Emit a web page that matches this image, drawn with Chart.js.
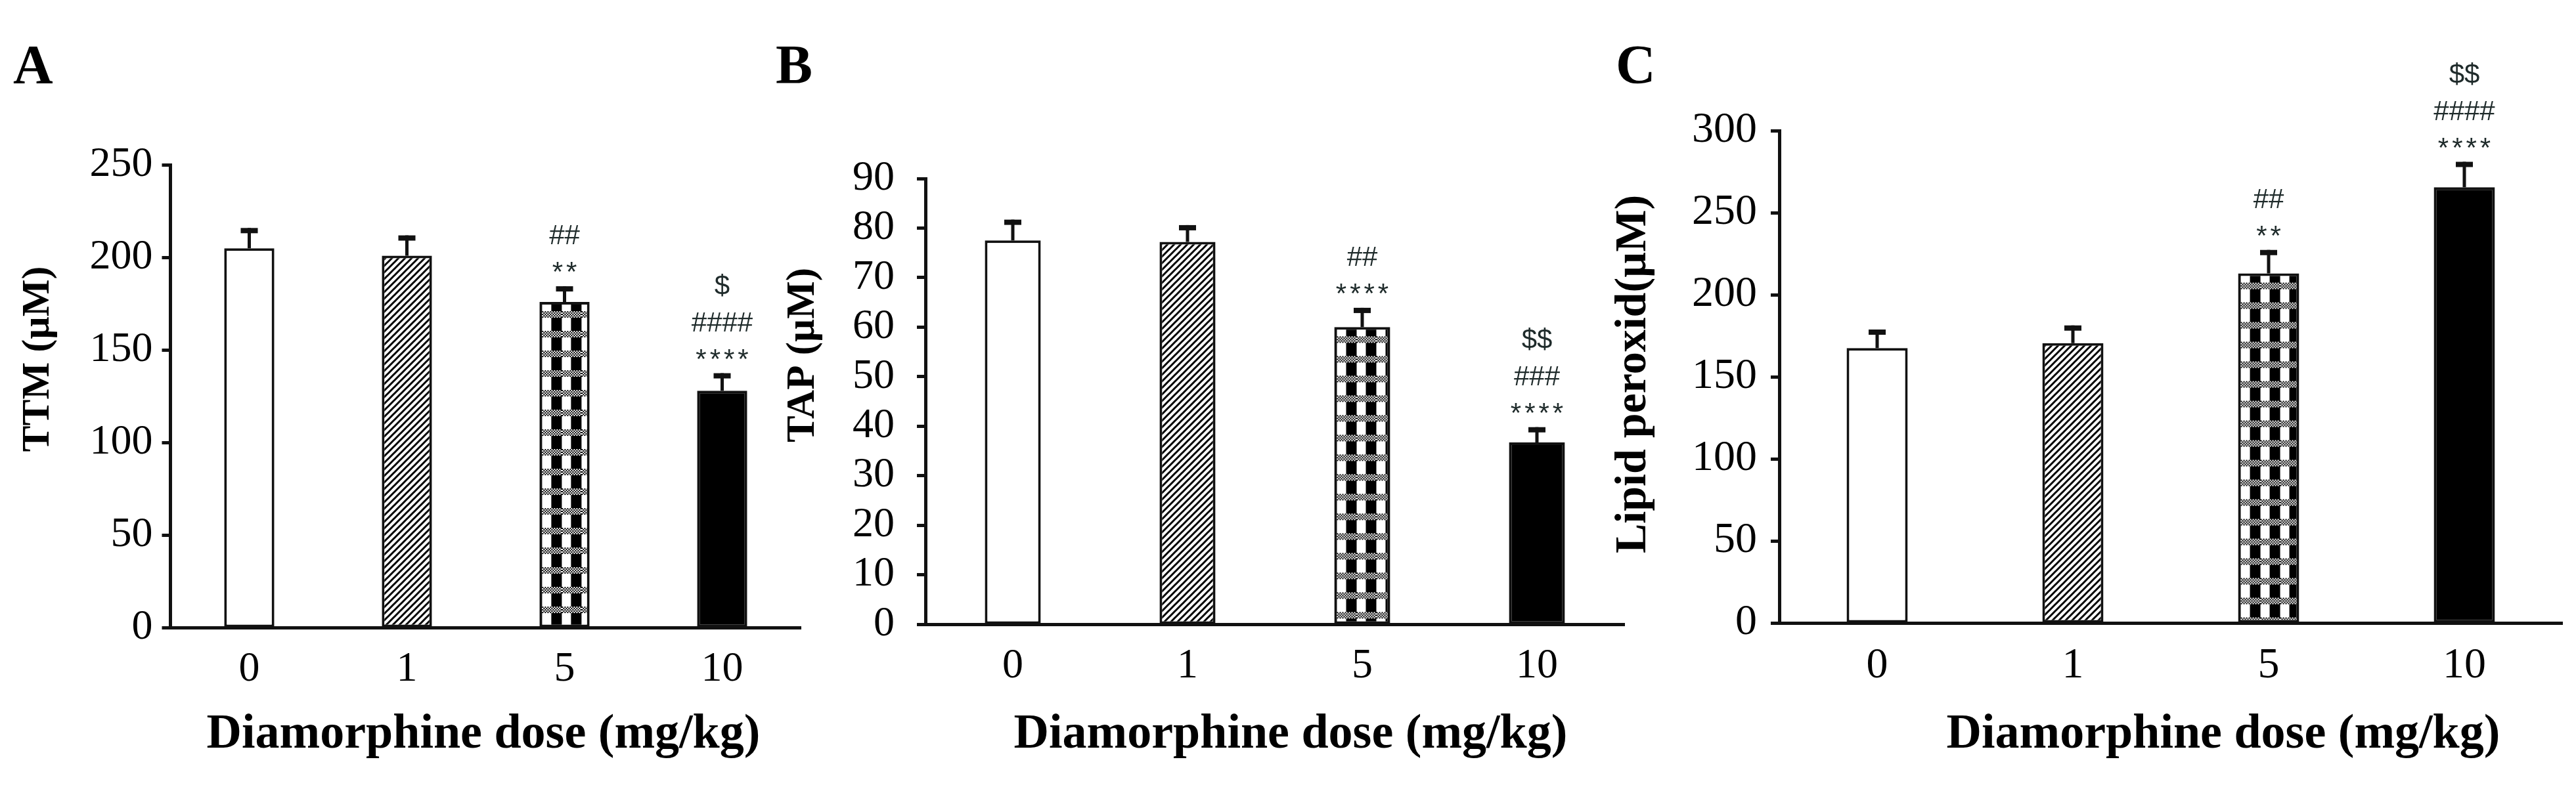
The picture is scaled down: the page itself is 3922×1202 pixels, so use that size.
<!DOCTYPE html>
<html><head><meta charset="utf-8">
<script src="https://cdn.jsdelivr.net/npm/chart.js@4.4.1/dist/chart.umd.min.js"></script>
<style>
html,body{margin:0;padding:0;background:#fff;}
body{width:3922px;height:1202px;position:relative;overflow:hidden;}
canvas{position:absolute;top:0;}
</style></head><body>
<canvas id="cA" width="1250" height="1202" style="left:0px;width:1250px;height:1202px"></canvas>
<canvas id="cB" width="1340" height="1202" style="left:1150px;width:1340px;height:1202px"></canvas>
<canvas id="cC" width="1502" height="1202" style="left:2420px;width:1502px;height:1202px"></canvas>
<script>
// ---- data ----
const categories = ['0', '1', '5', '10'];
const xTitle = 'Diamorphine dose (mg/kg)';

const ttmMean = [205, 201, 176, 128];
const ttmSem  = [11, 11, 8.5, 9.5];
const ttmTicks = [0, 50, 100, 150, 200, 250];
const ttmSig  = [[], [], ['**', '##'], ['****', '####', '$']];

const tapMean = [77.5, 77.2, 60, 36.7];
const tapSem  = [4.2, 3.4, 3.9, 3.1];
const tapTicks = [0, 10, 20, 30, 40, 50, 60, 70, 80, 90];
const tapSig  = [[], [], ['****', '##'], ['****', '###', '$$']];

const lipidMean = [167.5, 170.5, 213, 265.5];
const lipidSem  = [11.3, 10.8, 14.3, 15.5];
const lipidTicks = [0, 50, 100, 150, 200, 250, 300];
const lipidSig  = [[], [], ['**', '##'], ['****', '####', '$$']];

// ---- layout / style ----
const CANVAS_H = 1202;
const panels = [
  { id: 'cA', letter: 'A', yTitle: 'TTM (µM)', mean: ttmMean, sem: ttmSem, ticks: ttmTicks, sig: ttmSig,
    width: 1250, area: { left: 259.5, right: 1219.5, top: 251.5, bottom: 956 }, tickPad: 14, tickSize: 64, barPct: 0.318,
    letterX: 20, yTitleX: 58, yTitleY: 547, yTitleSize: 60, xTitleX: 736 },
  { id: 'cB', letter: 'B', yTitle: 'TAP (µM)', mean: tapMean, sem: tapSem, ticks: tapTicks, sig: tapSig,
    width: 1340, area: { left: 259, right: 1323, top: 272, bottom: 951 }, tickPad: 34, tickSize: 64, barPct: 0.32,
    letterX: 31, yTitleX: 73, yTitleY: 541, yTitleSize: 61, xTitleX: 815 },
  { id: 'cC', letter: 'C', yTitle: 'Lipid peroxid(µM)', mean: lipidMean, sem: lipidSem, ticks: lipidTicks, sig: lipidSig,
    width: 1502, area: { left: 289, right: 1481, top: 199, bottom: 949 }, tickPad: 21, tickSize: 66, barPct: 0.312,
    letterX: 40, yTitleX: 67, yTitleY: 570, yTitleSize: 68, xTitleX: 965 }
];

const INK = '#111';

function makeHatch() {
  const c = document.createElement('canvas');
  c.width = 10; c.height = 10;
  const g = c.getContext('2d');
  g.fillStyle = '#fff'; g.fillRect(0, 0, 10, 10);
  g.strokeStyle = '#000'; g.lineWidth = 3;
  g.beginPath();
  g.moveTo(-5, 5); g.lineTo(5, -5);
  g.moveTo(0, 10); g.lineTo(10, 0);
  g.moveTo(5, 15); g.lineTo(15, 5);
  g.stroke();
  return g.createPattern(c, 'repeat');
}

function makeChecker() {
  const c = document.createElement('canvas');
  c.width = 30; c.height = 30;
  const g = c.getContext('2d');
  g.fillStyle = '#fff'; g.fillRect(0, 0, 30, 30);
  g.fillStyle = '#000'; g.fillRect(14, 0, 16, 30);
  // fine checker band
  g.fillStyle = '#fff'; g.fillRect(0, 10, 30, 10);
  g.fillStyle = '#000';
  for (let r = 0; r < 5; r++) {
    for (let k = 0; k < 15; k++) {
      if ((r + k) % 2 === 0) g.fillRect(k * 2, 10 + r * 2, 2, 2);
    }
  }
  return g.createPattern(c, 'repeat');
}

function makePlugin(p, checker) {
  return {
    id: 'panelDecor' + p.letter,
    beforeDatasetsDraw(chart) {
      const el = chart.getDatasetMeta(0).data[2];
      if (el && checker.setTransform) {
        checker.setTransform(new DOMMatrix([1, 0, 0, 1, el.x - el.width / 2 + 4, el.y + 4]));
      }
    },
    afterDatasetsDraw(chart) {
      const ctx = chart.ctx;
      const y = chart.scales.y;
      const meta = chart.getDatasetMeta(0);
      ctx.save();
      meta.data.forEach((bar, i) => {
        const top = y.getPixelForValue(p.mean[i] + p.sem[i]);
        ctx.fillStyle = INK;
        ctx.fillRect(bar.x - 2.5, top, 5, bar.y - top);
        ctx.fillRect(bar.x - 13, top, 26, 8);
        ctx.font = '42px "Liberation Sans"';
        ctx.textAlign = 'center';
        ctx.textBaseline = 'alphabetic';
        ctx.fillStyle = '#1f2b2b';
        p.sig[i].forEach((t, j) => {
          const yb = top - 8 - j * 56;
          if (t.indexOf('*') >= 0) {
            ctx.letterSpacing = '5px';
            ctx.fillText(t, bar.x + 2.5, yb);
            ctx.letterSpacing = '0px';
          } else {
            ctx.fillText(t, bar.x, yb);
          }
        });
      });
      ctx.restore();
    },
    afterDraw(chart) {
      const ctx = chart.ctx;
      ctx.save();
      ctx.fillStyle = '#000';
      ctx.textBaseline = 'alphabetic';
      ctx.textAlign = 'left';
      ctx.font = 'bold 84px "Liberation Serif"';
      ctx.fillText(p.letter, p.letterX, 127);
      ctx.textAlign = 'center';
      ctx.font = 'bold 74px "Liberation Serif"';
      ctx.fillText(xTitle, p.xTitleX, 1139);
      ctx.translate(p.yTitleX, p.yTitleY);
      ctx.rotate(-Math.PI / 2);
      ctx.textBaseline = 'middle';
      ctx.font = 'bold ' + p.yTitleSize + 'px "Liberation Serif"';
      ctx.fillText(p.yTitle, 0, 0);
      ctx.restore();
    }
  };
}

panels.forEach(p => {
  const hatch = makeHatch();
  const checker = makeChecker();
  const a = p.area;
  new Chart(document.getElementById(p.id), {
    type: 'bar',
    data: {
      labels: categories,
      datasets: [{
        data: p.mean,
        backgroundColor: ['#ffffff', hatch, checker, '#000000'],
        borderColor: INK,
        borderWidth: 4,
        borderSkipped: false,
        categoryPercentage: 1,
        barPercentage: p.barPct
      }]
    },
    options: {
      responsive: false,
      animation: false,
      devicePixelRatio: 1,
      layout: { padding: { left: 0, top: a.top, right: p.width - a.right, bottom: 0 } },
      plugins: { legend: { display: false }, tooltip: { enabled: false }, title: { display: false } },
      scales: {
        x: {
          offset: true,
          grid: { display: false, drawTicks: false },
          border: { display: true, width: 5, color: INK },
          ticks: { color: '#000', font: { family: 'Liberation Serif', size: p.tickSize }, padding: 26, maxRotation: 0, autoSkip: false },
          afterFit: s => { s.height = CANVAS_H - a.bottom; }
        },
        y: {
          min: p.ticks[0],
          max: p.ticks[p.ticks.length - 1],
          grid: { display: true, drawOnChartArea: false, drawTicks: true, tickLength: 13, tickWidth: 5, tickColor: INK },
          border: { display: true, width: 5, color: INK },
          ticks: { stepSize: p.ticks[1] - p.ticks[0], autoSkip: false, color: '#000', font: { family: 'Liberation Serif', size: p.tickSize }, padding: p.tickPad },
          afterFit: s => { s.width = a.left; }
        }
      }
    },
    plugins: [makePlugin(p, checker)]
  });
});
</script>
</body></html>
